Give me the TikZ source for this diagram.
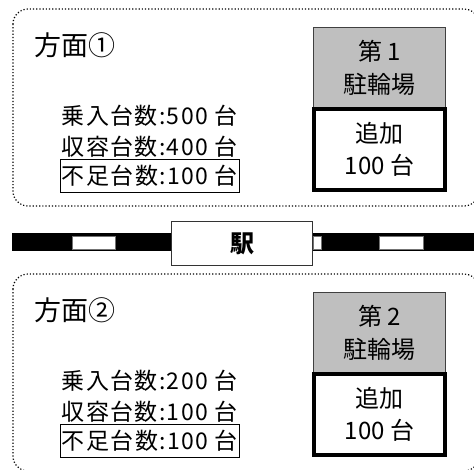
\documentclass[tikz,border=0pt]{standalone}
\usepackage{fontspec}
\setmainfont{Noto Sans CJK JP}
\newfontfamily\widejp[LetterSpace=6]{Noto Sans CJK JP}
\begin{document}
\begin{tikzpicture}[x=1pt,y=-1pt]
    \tikzset{AreaStyle/.style = {%
        draw, dotted,
        line width= 1.2pt,
        rounded corners= 15pt},
      TitleStyle/.style = {anchor=west, inner sep=0pt,
        font=\fontsize{27}{30}\selectfont},
      CountStyle/.style = {anchor=west, inner xsep=1.5pt, inner ysep=0pt,
        font=\widejp\fontsize{23}{25}\selectfont},
      ParkStyle/.style = {%
        draw= black!75, line width= 1.6pt,
        fill= black!25,
        minimum width= 132pt, minimum height= 80pt,
        align= center, inner sep= 0pt,
        font=\fontsize{24}{33}\selectfont},
      AddStyle/.style = {%
        draw, line width= 3.5pt,
        fill= white,
        minimum width= 131pt, minimum height= 81pt,
        align= center, inner sep= 0pt,
        font=\fontsize{24}{32}\selectfont},
      GapStyle/.style = {draw=black!55, fill=white}}
    \useasboundingbox (0,0) rectangle (474,469);
    % two areas, the second one shifted down
    \foreach \i/\dy/\cnum/\ride/\room in {1/0/①/500/400, 2/265/②/200/100} {
      \begin{scope}[yshift=-\dy pt]
        \draw[AreaStyle] (13,9) rectangle (479,206);
        \node[TitleStyle] (title\i) at (34,45) {方面\cnum};
        \node[CountStyle] (ride\i) at (60,116) {乗入台数:\ride{} 台};
        \node[CountStyle] (room\i) at (60,146.5) {収容台数:\room{} 台};
        \node[CountStyle, draw, line width=0.8pt, minimum height=33pt] (lack\i) at (60,176) {不足台数:100 台};
        \node[ParkStyle] (park\i) at (379.5,67.5) {第 \i\\駐輪場};
        \node[AddStyle] (add\i) at (379.5,149.5) {追加\\100 台};
      \end{scope}
    }
    % railway and station
    \fill (12,233) rectangle (479,251);
    \draw[GapStyle] (72,236) rectangle (115,249);
    \draw[GapStyle] (313,236) rectangle (321,249);
    \draw[GapStyle] (379,236) rectangle (423,249);
    \node[draw=black!80, line width=1.4pt, fill=white,
      minimum width=141pt, minimum height=44pt,
      font=\fontsize{24}{26}\selectfont\bfseries] (station) at (242,243.5) {駅};
  \end{tikzpicture}
\end{document}
